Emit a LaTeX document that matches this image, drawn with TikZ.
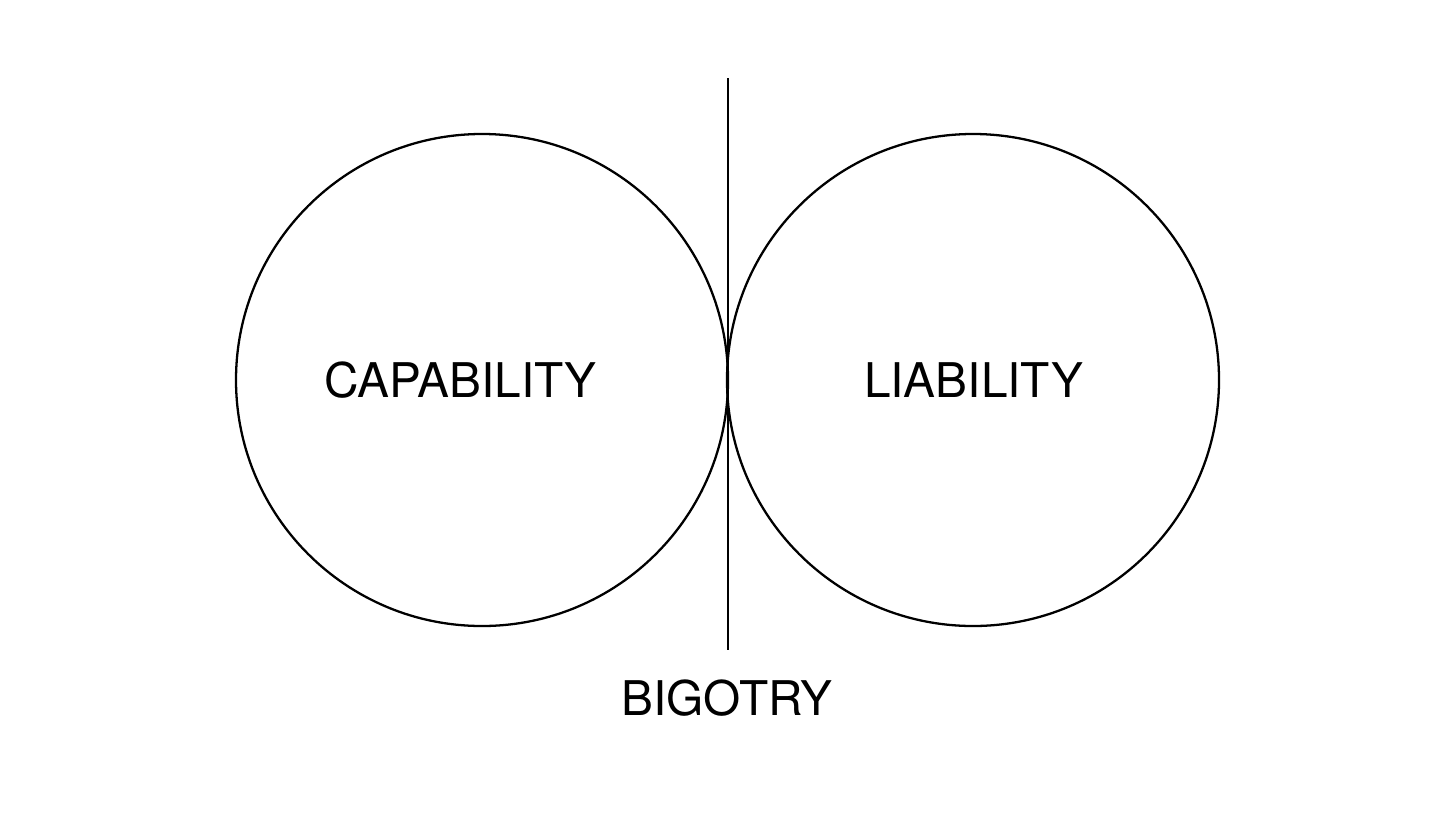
\documentclass[tikz,border=0pt]{standalone}
\usepackage{fontspec}
\setmainfont{TeX Gyre Heros}
\usepackage{tikz}
\tikzset{
  bola/.style={draw,circle,line width=0.65pt,minimum size=4.92cm,inner sep=0pt},
  rotulo/.style={font=\fontsize{13.6}{16}\selectfont}
}

\begin{document}
\begin{tikzpicture}
  \useasboundingbox (0,0) rectangle (14.56,8.19);
  \node[bola] (capab) at (4.82,4.39) {};
  \node[bola] (liab) at (9.73,4.39) {};
  \node[rotulo] (capabtxt) at (4.605,4.39) {CAPABILITY};
  \node[rotulo] (liabtxt) at (9.735,4.39) {LIABILITY};
  \coordinate (arriba) at (7.28,7.41);
  \coordinate (abajo) at (7.28,1.69);
  \draw[line width=0.65pt] (arriba)--(abajo);
  \node[rotulo] (bigot) at (7.27,1.21) {BIGOTRY};
\end{tikzpicture}
\end{document}
